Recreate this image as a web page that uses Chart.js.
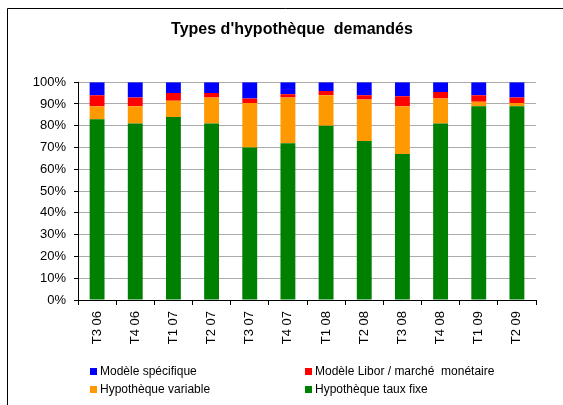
<!DOCTYPE html>
<html>
<head>
<meta charset="utf-8">
<script src="https://cdn.jsdelivr.net/npm/chart.js@4"></script>
<style>
  body { margin: 0; background: #fff; }
  #wrap { position: relative; width: 563px; height: 405px; }
  #legend { position: absolute; left: 0; top: 0; font-family: Arial, "Liberation Sans", sans-serif; font-size: 12px; color: #000; }
  .item { position: absolute; white-space: pre; line-height: 14px; }
  .box { display: inline-block; width: 7px; height: 7px; margin-right: 3px; vertical-align: 0px; }
</style>
</head>
<body>
<div id="wrap">
  <canvas id="chart" width="563" height="405"></canvas>
  <div id="legend"></div>
</div>
<script>
const categories = ["T3 06", "T4 06", "T1 07", "T2 07", "T3 07", "T4 07", "T1 08", "T2 08", "T3 08", "T4 08", "T1 09", "T2 09"];
const tauxFixe = [83, 81, 84, 81, 70, 72, 80, 73, 67, 81, 89, 89];
const variable = [6, 8, 7.5, 12, 20.5, 21, 14, 19, 22, 11.5, 2, 1.5];
const libor = [5, 4, 3.5, 2, 2, 1.5, 2, 2, 4.5, 3, 3, 2.5];
const specifique = [6, 7, 5, 5, 7.5, 5.5, 4, 6, 6.5, 4.5, 6, 7];
const yTicks = [0, 10, 20, 30, 40, 50, 60, 70, 80, 90, 100];

const font = "Arial, 'Liberation Sans', sans-serif";

// left + top border of the chart frame, title nudged right like the original
const framePlugin = {
  id: "frame",
  afterLayout(chart) {
    if (chart.titleBlock) chart.titleBlock.left = 48;
  },
  beforeDraw(chart) {
    const ctx = chart.ctx;
    ctx.save();
    ctx.strokeStyle = "#000";
    ctx.lineWidth = 1;
    ctx.beginPath();
    ctx.moveTo(7.5, 405);
    ctx.lineTo(7.5, 8.5);
    ctx.lineTo(563, 8.5);
    ctx.stroke();
    ctx.restore();
  },
};

const bar = { categoryPercentage: 1, barPercentage: 0.39, borderWidth: 0 };

const chart = new Chart(document.getElementById("chart"), {
  type: "bar",
  data: {
    labels: categories,
    datasets: [
      { label: "Hypothèque taux fixe", data: tauxFixe, backgroundColor: "#008000", ...bar },
      { label: "Hypothèque variable", data: variable, backgroundColor: "#FF9900", ...bar },
      { label: "Modèle Libor / marché  monétaire", data: libor, backgroundColor: "#FF0000", ...bar },
      { label: "Modèle spécifique", data: specifique, backgroundColor: "#0000FF", ...bar },
    ],
  },
  options: {
    responsive: false,
    animation: false,
    layout: { padding: { left: 20, right: 27, top: 0, bottom: 55 } },
    plugins: {
      legend: { display: false },
      tooltip: { enabled: false },
      title: {
        display: true,
        text: "Types d'hypothèque  demandés",
        color: "#000",
        font: { family: font, size: 16, weight: "bold" },
        padding: { top: 20, bottom: 43 },
      },
    },
    scales: {
      x: {
        stacked: true,
        grid: { display: true, drawOnChartArea: false, drawTicks: true, tickLength: 5, color: "#000", offset: true },
        border: { color: "#000" },
        ticks: { color: "#000", minRotation: 90, maxRotation: 90, padding: 6, font: { family: font, size: 13 } },
        afterFit(scale) { scale.height = 50; },
      },
      y: {
        stacked: true,
        min: 0,
        max: 100,
        afterBuildTicks(scale) { scale.ticks = yTicks.map((v) => ({ value: v })); },
        grid: { color: "#ababab", tickColor: "#000", tickLength: 4 },
        border: { color: "#000" },
        ticks: { color: "#000", padding: 8, font: { family: font, size: 13 }, callback: (v) => v + "%" },
        afterFit(scale) { scale.width = 58; },
      },
    },
  },
  plugins: [framePlugin],
});

// legend in two columns, top series first
const legendPos = [
  { left: 90, top: 364 },
  { left: 305, top: 364 },
  { left: 90, top: 382 },
  { left: 305, top: 382 },
];
const order = [3, 2, 1, 0];
const legend = document.getElementById("legend");
order.forEach((i, k) => {
  const ds = chart.data.datasets[i];
  const el = document.createElement("div");
  el.className = "item";
  el.style.left = legendPos[k].left + "px";
  el.style.top = legendPos[k].top + "px";
  el.innerHTML = '<span class="box" style="background:' + ds.backgroundColor + '"></span>' + ds.label;
  legend.appendChild(el);
});
</script>
</body>
</html>
